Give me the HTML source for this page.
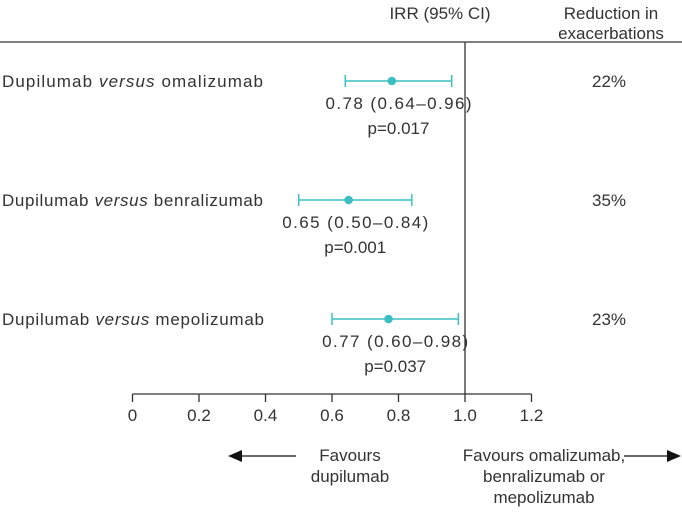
<!DOCTYPE html>
<html><head><meta charset="utf-8"><style>
body{margin:0;background:#fff;}
svg text{font-family:"Liberation Sans",sans-serif;fill:#333;font-size:17px;}
</style></head><body>
<svg width="682" height="512" viewBox="0 0 682 512" id="chart">
<text x="440" y="19" text-anchor="middle" font-size="16">IRR (95% CI)</text>
<text x="611" y="19" text-anchor="middle" font-size="16">Reduction in</text>
<text x="611" y="39" text-anchor="middle" font-size="16">exacerbations</text>
<line x1="0" y1="42" x2="682" y2="42" stroke="#333" stroke-width="1.3"/>
<line x1="465" y1="42" x2="465" y2="394" stroke="#333" stroke-width="1.3"/>
<g id="axis"></g><g id="rows"></g>
<text x="350" y="461" text-anchor="middle" font-size="16">Favours</text>
<text x="350" y="482" text-anchor="middle" font-size="16">dupilumab</text>
<line x1="232" y1="456" x2="296" y2="456" stroke="#111" stroke-width="1.3"/>
<polygon points="228,456 242,450 242,462" fill="#111"/>
<text x="544" y="461" text-anchor="middle" font-size="16">Favours omalizumab,</text>
<text x="544" y="482" text-anchor="middle" font-size="16">benralizumab or</text>
<text x="544" y="503" text-anchor="middle" font-size="16">mepolizumab</text>
<line x1="624" y1="456" x2="676" y2="456" stroke="#111" stroke-width="1.3"/>
<polygon points="681,456 667,450 667,462" fill="#111"/>
</svg>
<script>
const comparators=["omalizumab","benralizumab","mepolizumab"];
const irr=[0.78,0.65,0.77];
const lower=[0.64,0.50,0.60];
const upper=[0.96,0.84,0.98];
const pvals=["0.017","0.001","0.037"];
const reductions=["22%","35%","23%"];
const ticks=[0,0.2,0.4,0.6,0.8,1.0,1.2];
const tickLabels=["0","0.2","0.4","0.6","0.8","1.0","1.2"];
const NS="http://www.w3.org/2000/svg";
const x=v=>132.5+v*332.5;
const rowY=i=>81+i*119;
const labelLen=[261,261,262];
function mk(t,a,p){const e=document.createElementNS(NS,t);for(const k in a)e.setAttribute(k,a[k]);p.appendChild(e);return e;}
const ax=document.getElementById('axis'),rows=document.getElementById('rows');
const al=mk('line',{x1:x(0),y1:394,x2:x(1.2),y2:394,stroke:'#333','stroke-width':1.3},ax);


ticks.forEach((t,i)=>{
 const l=mk('line',{x1:x(t),y1:394,x2:x(t),y2:402,stroke:'#333','stroke-width':1.3},ax);
 
 
 const tx=mk('text',{x:x(t),y:421,'text-anchor':'middle'},ax);tx.textContent=tickLabels[i];
 
 
});
const teal="#3cbfc3";
comparators.forEach((c,i)=>{
 const y=rowY(i);
 const lab=mk('text',{x:2,y:y+6,textLength:labelLen[i],lengthAdjust:'spacing'},rows);
 lab.innerHTML='Dupilumab <tspan font-style="italic">versus</tspan> '+c;
 
 
 const ci=mk('path',{d:`M${x(lower[i])},${y-6}V${y+6}M${x(lower[i])},${y}H${x(upper[i])}M${x(upper[i])},${y-6}V${y+6}`,stroke:teal,'stroke-width':1.5,fill:'none'},rows);
 
 
 const pt=mk('circle',{cx:x(irr[i]),cy:y,r:4.3,fill:teal},rows);
 
 
 const cx=(x(lower[i])+x(upper[i]))/2;
 const v=mk('text',{x:cx,y:y+28,'text-anchor':'middle','font-size':18,textLength:146,lengthAdjust:'spacing'},rows);
 v.textContent=irr[i].toFixed(2)+' ('+lower[i].toFixed(2)+'–'+upper[i].toFixed(2)+')';
 
 
 const p=mk('text',{x:cx,y:y+53,'text-anchor':'middle','font-size':18},rows);
 p.textContent='p='+pvals[i];
 
 
 const r=mk('text',{x:609,y:y+6,'text-anchor':'middle'},rows);
 r.textContent=reductions[i];
 
 
});
</script>
</body></html>
